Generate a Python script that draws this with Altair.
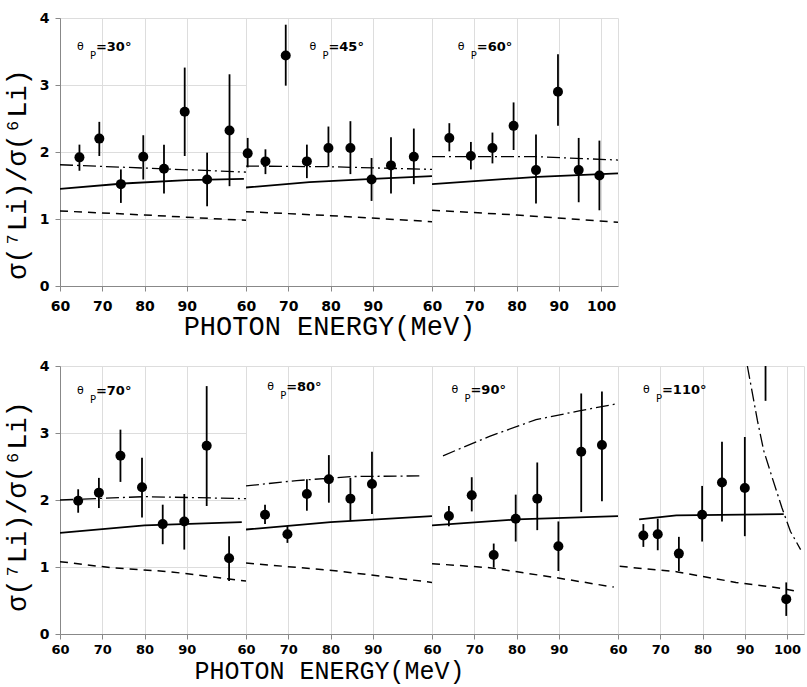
import altair as alt
import pandas as pd

# ---------------- data ----------------
# measured points: photon energy (MeV), ratio, error-bar low/high
E30 = [64.6, 69.3, 74.4, 79.7, 84.6, 89.5, 94.8, 100.1]
R30 = [1.92, 2.20, 1.52, 1.93, 1.75, 2.60, 1.59, 2.32]
LO30 = [1.72, 1.94, 1.24, 1.59, 1.38, 1.94, 1.19, 1.49]
HI30 = [2.11, 2.45, 1.74, 2.25, 2.11, 3.26, 1.99, 3.16]

E45 = [60.4, 64.6, 69.4, 74.4, 79.5, 84.7, 89.7, 94.3, 99.7]
R45 = [1.98, 1.86, 3.44, 1.86, 2.06, 2.06, 1.59, 1.80, 1.93]
LO45 = [1.77, 1.67, 2.99, 1.61, 1.78, 1.67, 1.27, 1.38, 1.52]
HI45 = [2.21, 2.04, 3.90, 2.11, 2.38, 2.46, 1.91, 2.22, 2.35]

E60 = [64.1, 69.2, 74.3, 79.3, 84.6, 89.8, 94.7, 99.6]
R60 = [2.21, 1.94, 2.06, 2.39, 1.73, 2.90, 1.73, 1.65]
LO60 = [2.01, 1.74, 1.83, 2.03, 1.23, 2.39, 1.25, 1.13]
HI60 = [2.43, 2.15, 2.29, 2.74, 2.26, 3.46, 2.21, 2.17]

E70 = [64.3, 69.2, 74.3, 79.4, 84.3, 89.4, 94.7, 100.0]
R70 = [1.99, 2.11, 2.66, 2.19, 1.64, 1.68, 2.81, 1.13]
LO70 = [1.81, 1.88, 2.27, 1.74, 1.34, 1.26, 1.91, 0.79]
HI70 = [2.16, 2.33, 3.05, 2.63, 1.93, 2.09, 3.70, 1.46]

E80 = [64.5, 69.8, 74.4, 79.6, 84.7, 89.8]
R80 = [1.78, 1.49, 2.09, 2.31, 2.02, 2.24]
LO80 = [1.64, 1.36, 1.84, 1.96, 1.69, 1.79]
HI80 = [1.93, 1.61, 2.31, 2.67, 2.33, 2.72]

E90 = [64.0, 69.4, 74.6, 79.8, 84.9, 89.9, 95.3, 100.2]
R90 = [1.76, 2.07, 1.18, 1.72, 2.02, 1.31, 2.72, 2.82]
LO90 = [1.61, 1.83, 0.99, 1.38, 1.55, 0.94, 1.82, 1.98]
HI90 = [1.91, 2.34, 1.35, 2.08, 2.56, 1.68, 3.59, 3.62]

E110 = [66.0, 69.4, 74.4, 79.9, 84.6, 90.0, 94.9, 99.8]
R110 = [1.47, 1.49, 1.20, 1.78, 2.26, 2.18, None, 0.52]
LO110 = [1.30, 1.25, 0.94, 1.38, 1.68, 1.46, 3.48, 0.27]
HI110 = [1.64, 1.72, 1.45, 2.21, 2.87, 2.94, 4.00, 0.77]

# calculated curves: solid, dashed, dash-dot
S30_E, S30_R = [60, 75, 90, 103.5], [1.45, 1.53, 1.58, 1.60]
D30_E, D30_R = [60, 80, 104], [1.12, 1.06, 0.98]
DD30_E, DD30_R = [60, 80, 104], [1.81, 1.76, 1.70]

S45_E, S45_R = [60, 75, 90, 104], [1.47, 1.55, 1.60, 1.64]
D45_E, D45_R = [60, 80, 104], [1.11, 1.05, 0.96]
DD45_E, DD45_R = [60, 80, 104], [1.79, 1.78, 1.74]

S60_E, S60_R = [60, 85, 104], [1.52, 1.63, 1.68]
D60_E, D60_R = [60, 80, 104], [1.13, 1.06, 0.95]
DD60_E, DD60_R = [60, 85, 104], [1.93, 1.93, 1.88]

S70_E, S70_R = [60, 80, 103], [1.51, 1.62, 1.67]
D70_E, D70_R = [60, 72, 86, 100, 104], [1.08, 0.99, 0.93, 0.82, 0.79]
DD70_E, DD70_R = [60, 80, 104], [2.00, 2.05, 2.02]

S80_E, S80_R = [60, 80, 104], [1.56, 1.67, 1.76]
D80_E, D80_R = [60, 81.7, 104], [1.06, 0.94, 0.77]
DD80_E, DD80_R = [60, 72, 85, 101], [2.21, 2.29, 2.35, 2.36]

S90_E, S90_R = [60, 80, 104], [1.62, 1.71, 1.76]
D90_E, D90_R = [60, 73.6, 89.4, 103], [1.05, 0.99, 0.84, 0.70]
DD90_E, DD90_R = [62.6, 73.6, 84.6, 94.8, 104], [2.66, 2.95, 3.20, 3.33, 3.44]

S110_E, S110_R = [65, 73.8, 99.2], [1.71, 1.77, 1.79]
D110_E, D110_R = [60.4, 73.8, 87.9, 98.9, 102.8], [1.01, 0.93, 0.77, 0.68, 0.63]
DD110_E, DD110_R = [90.6, 93, 94.5, 96.5, 98.8, 100.8, 103.2], [4.0, 3.18, 2.73, 2.33, 1.88, 1.53, 1.26]

ANGLES = ["30", "45", "60", "70", "80", "90", "110"]
LBL_X = [64.0, 75.0, 66.1, 64.0, 65.0, 64.6, 65.9]
LBL_Y = [3.57, 3.57, 3.57, 3.63, 3.68, 3.64, 3.64]

TICKS = [60, 70, 80, 90]
TICKS_LAST = [60, 70, 80, 90, 100]
X_TITLE = "PHOTON ENERGY(MeV)"
Y_TITLE = "σ(⁷Li)/σ(⁶Li)"

# ---------------- styling ----------------
XDOM = [60, 104]
YDOM = [0, 4]
W, H = 186, 268
MONO = "Liberation Mono"
TICKFONT = "DejaVu Sans"

PANEL_DATA = {
    "30": (E30, R30, LO30, HI30, (S30_E, S30_R), (D30_E, D30_R), (DD30_E, DD30_R)),
    "45": (E45, R45, LO45, HI45, (S45_E, S45_R), (D45_E, D45_R), (DD45_E, DD45_R)),
    "60": (E60, R60, LO60, HI60, (S60_E, S60_R), (D60_E, D60_R), (DD60_E, DD60_R)),
    "70": (E70, R70, LO70, HI70, (S70_E, S70_R), (D70_E, D70_R), (DD70_E, DD70_R)),
    "80": (E80, R80, LO80, HI80, (S80_E, S80_R), (D80_E, D80_R), (DD80_E, DD80_R)),
    "90": (E90, R90, LO90, HI90, (S90_E, S90_R), (D90_E, D90_R), (DD90_E, DD90_R)),
    "110": (E110, R110, LO110, HI110, (S110_E, S110_R), (D110_E, D110_R), (DD110_E, DD110_R)),
}


def label_style(row):
    return dict(labelFont=TICKFONT, labelFontSize=14 if row == 0 else 13,
                labelFontWeight="bold", labelColor="black")


def make_panel(idx, first, last, middle, row):
    ang = ANGLES[idx]
    E, R, LO, HI, sol, dsh, ddt = PANEL_DATA[ang]

    xaxis_kw = dict(values=TICKS_LAST if last else TICKS, labelFlush=False, labelOverlap=False,
                    labelPadding=8 if row == 0 else 4, title="", **label_style(row))
    if middle:
        xaxis_kw.update(title=X_TITLE, titleFont=MONO, titleFontSize=27 if row == 0 else 25,
                        titleFontWeight="normal", titleColor="black", titleAlign="center",
                        titleBaseline="alphabetic", titleX=83, titleY=48 if row == 0 else 44)
    xscale = alt.Scale(domain=XDOM, nice=False, zero=False)
    yscale = alt.Scale(domain=YDOM, nice=False, zero=True)
    if first:
        yaxis = alt.Axis(values=[0, 1, 2, 3, 4], labelPadding=6, title=Y_TITLE, titleFont=MONO,
                         titleFontSize=27, titleFontWeight="normal", titleColor="black",
                         titleAngle=270, titleAlign="center", titleBaseline="middle",
                         titleX=-43, titleY=156 if row == 0 else 140, **label_style(0))
    else:
        yaxis = None

    def X(field):
        return alt.X(field, type="quantitative", scale=xscale, axis=alt.Axis(**xaxis_kw))

    def Y(field):
        return alt.Y(field, type="quantitative", scale=yscale, axis=yaxis)

    pts = pd.DataFrame({"E": E, "R": R, "lo": LO, "hi": HI})
    layers = []
    line_specs = [(sol, {"strokeWidth": 1.8}),
                  (dsh, {"strokeWidth": 1.5, "strokeDash": [8, 6]}),
                  (ddt, {"strokeWidth": 1.3, "strokeDash": [13, 4, 2, 4]})]
    for (ce, cr), style in line_specs:
        df = pd.DataFrame({"E": ce, "R": cr})
        layers.append(alt.Chart(df).mark_line(color="black", clip=True, **style)
                      .encode(x=X("E"), y=Y("R")))
    layers.append(alt.Chart(pts).mark_rule(color="black", strokeWidth=1.8, clip=True)
                  .encode(x=X("E"), y=Y("lo"), y2="hi"))
    layers.append(alt.Chart(pts).transform_filter("isValid(datum.R)")
                  .mark_circle(color="black", opacity=1, size=100)
                  .encode(x=X("E"), y=Y("R")))

    lbl = pd.DataFrame({"E": [LBL_X[idx]], "R": [LBL_Y[idx]]})
    base = alt.Chart(lbl)
    layers.append(base.mark_text(text="θ", align="left", baseline="middle", font=TICKFONT,
                                 fontSize=11, color="black").encode(x=X("E"), y=Y("R")))
    layers.append(base.mark_text(text="P", align="left", baseline="middle", font=TICKFONT,
                                 fontSize=10, color="black", dx=13, dy=9).encode(x=X("E"), y=Y("R")))
    layers.append(base.mark_text(text="=" + ang + "°", align="left", baseline="middle",
                                 font=TICKFONT, fontSize=13, fontWeight="bold", color="black",
                                 dx=19, dy=0).encode(x=X("E"), y=Y("R")))
    return alt.layer(*layers).properties(width=W, height=H)


top = alt.hconcat(*[make_panel(i, i == 0, i == 2, i == 1, 0) for i in range(3)],
                  spacing=0, bounds="flush")
bottom = alt.hconcat(*[make_panel(i, i == 3, i == 6, i == 4, 1) for i in range(3, 7)],
                     spacing=0, bounds="flush")

# with flush bounds the row groups count as zero height, so the spacing spans a whole row
chart = alt.vconcat(top, bottom, spacing=H + 80, bounds="flush").properties(
    padding={"left": 2, "top": 10, "right": 0, "bottom": 3}
).configure_view(
    stroke="black", strokeWidth=2
).configure_axis(
    grid=False, ticks=False, domain=False
).configure(background="white")

chart.save("out.html", embed_options={"renderer": "svg", "actions": False})
